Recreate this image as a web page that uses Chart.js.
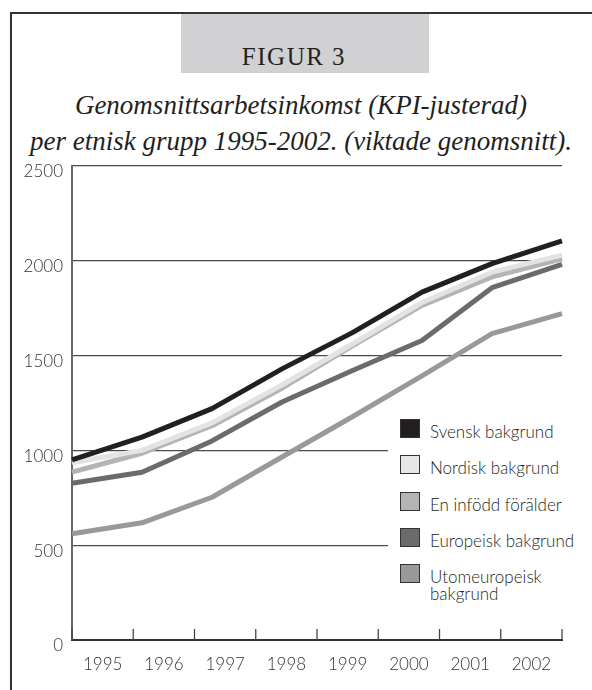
<!DOCTYPE html>
<html><head><meta charset="utf-8">
<script src="https://cdn.jsdelivr.net/npm/chart.js@4.4.1/dist/chart.umd.min.js"></script>
<style>
html,body{margin:0;padding:0;background:#fff;}
body{width:592px;height:690px;position:relative;overflow:hidden;}
#frame{position:absolute;left:10px;top:12px;width:640px;height:720px;border-left:2px solid #333;border-top:2px solid #333;}
#fig{position:absolute;left:181px;top:14px;width:248px;height:59px;background:#d1d1d3;}
#figtxt{position:absolute;left:0;width:226px;top:28px;text-align:center;font:25px "Liberation Serif",serif;letter-spacing:1.5px;line-height:30px;color:#231f20;}
#title{position:absolute;left:0;width:602px;top:87px;text-align:center;font:italic 27px "Liberation Serif",serif;line-height:36px;color:#231f20;}
#c{position:absolute;left:0;top:0;}
#legend{position:absolute;left:388px;top:412px;width:204px;height:196px;background:#fff;}
.sw{position:absolute;left:12px;width:20px;height:19px;border:1px solid #333;box-sizing:border-box;}
.lt{position:absolute;left:42px;width:165px;font:300 17px Lato,sans-serif;line-height:17px;color:#231f20;}
</style></head>
<body>
<div id="frame"></div>
<div id="fig"><div id="figtxt">FIGUR 3</div></div>
<div id="title">Genomsnittsarbetsinkomst (KPI-justerad)<br>per etnisk grupp 1995-2002. (viktade genomsnitt).</div>
<canvas id="c" width="592" height="690"></canvas>
<div id="legend"></div>
<script>
const years = ['1995','1996','1997','1998','1999','2000','2001','2002'];
const svensk = [950, 1070, 1220, 1430, 1620, 1835, 1985, 2105];
const nordisk = [935, 1000, 1145, 1345, 1560, 1780, 1940, 2030];
const enInfodd = [885, 985, 1130, 1328, 1550, 1765, 1915, 2010];
const europeisk = [827, 885, 1050, 1255, 1420, 1580, 1858, 1981];
const utomeuropeisk = [560, 618, 753, 965, 1176, 1393, 1616, 1721];
const seriesNames = ['Svensk bakgrund','Nordisk bakgrund','En infödd förälder','Europeisk bakgrund','Utomeuropeisk bakgrund'];
const yTicks = [0, 500, 1000, 1500, 2000, 2500];

const seriesData = [svensk, nordisk, enInfodd, europeisk, utomeuropeisk];
const lineColors = ['#231f20','#e2e3e4','#b3b4b6','#6a6b6d','#98999b'];
const swatchColors = ['#231f20','#e6e7e8','#b3b4b6','#6a6b6d','#98999b'];

const innerTicks = {
  id: 'innerTicks',
  afterDraw(chart) {
    const s = chart.scales.xd, ctx = chart.ctx;
    const n = s.getLabels().length;
    ctx.save();
    ctx.strokeStyle = '#444';
    ctx.lineWidth = 1.3;
    for (let i = 0; i <= n; i++) {
      const x = s.getPixelForValue(i - 0.5);
      ctx.beginPath();
      ctx.moveTo(x, s.top);
      ctx.lineTo(x, s.top - 11);
      ctx.stroke();
    }
    ctx.restore();
  }
};

const tickFont = {family: 'Lato', size: 17, weight: '300'};

const chart = new Chart(document.getElementById('c'), {
  type: 'line',
  data: {
    labels: years,
    datasets: seriesData.map((d, i) => ({
      label: seriesNames[i],
      data: d,
      borderColor: lineColors[i],
      backgroundColor: lineColors[i],
      borderWidth: 5,
      pointRadius: 0,
      tension: 0,
      borderCapStyle: 'butt',
      borderJoinStyle: 'round',
      fill: false
    }))
  },
  options: {
    responsive: false,
    animation: false,
    devicePixelRatio: 1,
    layout: {padding: {left: 0, top: 166, right: 30, bottom: 10}},
    plugins: {legend: {display: false}, tooltip: {enabled: false}},
    scales: {
      x: {type: 'category', offset: false, display: false},
      xd: {
        type: 'category', position: 'bottom', offset: true, labels: years,
        grid: {display: false, drawTicks: false},
        border: {display: true, color: '#333', width: 2},
        ticks: {font: tickFont, color: '#333', padding: 14, maxRotation: 0, autoSkip: false},
        afterFit(s) { s.height = 40; }
      },
      y: {
        min: 0, max: 2500,
        afterBuildTicks(s) { s.ticks = yTicks.map(v => ({value: v})); },
        grid: {color: '#4a4a4a', lineWidth: 1.2, drawTicks: false},
        border: {display: true, color: '#666', width: 2},
        ticks: {font: tickFont, color: '#333', padding: 9, labelOffset: 6, callback: v => String(v)},
        afterFit(s) { s.width = 72; }
      }
    }
  },
  plugins: [innerTicks]
});

const leg = document.getElementById('legend');
chart.data.datasets.forEach((ds, i) => {
  const top = 7 + i * 36.3;
  const sw = document.createElement('div');
  sw.className = 'sw';
  sw.style.top = top + 'px';
  sw.style.background = swatchColors[i];
  leg.appendChild(sw);
  const t = document.createElement('div');
  t.className = 'lt';
  t.style.top = (top + 4) + 'px';
  t.textContent = ds.label;
  leg.appendChild(t);
});
</script>
</body></html>
